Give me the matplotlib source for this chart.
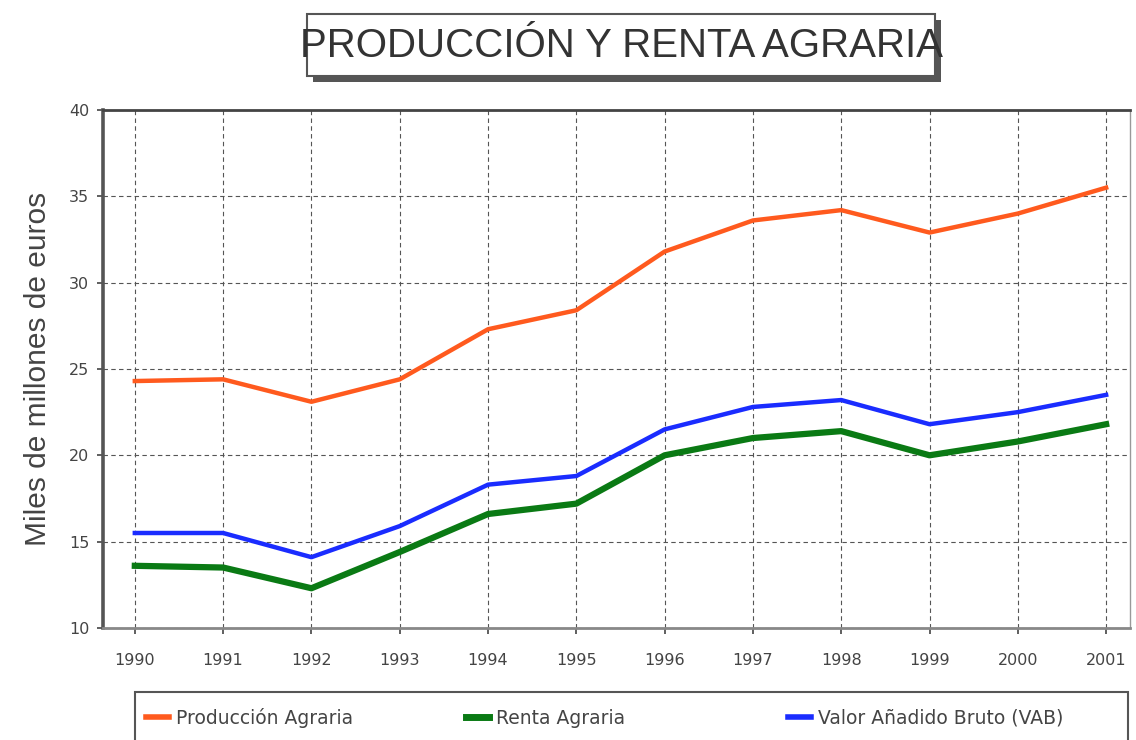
#!/usr/bin/env python3
# -*- coding: utf-8 -*-

import numpy as np
import matplotlib
matplotlib.use("Agg")
import matplotlib.pyplot as plt
import matplotlib.patheffects as pe
from matplotlib.patches import Rectangle
from matplotlib.lines import Line2D

plt.rcParams['font.family'] = ['Liberation Sans', 'DejaVu Sans']

years = [1990, 1991, 1992, 1993, 1994, 1995, 1996, 1997, 1998, 1999, 2000, 2001]
produccion = [24.3, 24.4, 23.1, 24.4, 27.3, 28.4, 31.8, 33.6, 34.2, 32.9, 34.0, 35.5]
renta = [13.6, 13.5, 12.3, 14.4, 16.6, 17.2, 20.0, 21.0, 21.4, 20.0, 20.8, 21.8]
vab = [15.5, 15.5, 14.1, 15.9, 18.3, 18.8, 21.5, 22.8, 23.2, 21.8, 22.5, 23.5]
yticks = [10, 15, 20, 25, 30, 35, 40]
series_names = ["Producción Agraria", "Renta Agraria", "Valor Añadido Bruto (VAB)"]
colors = ["#ff5a1e", "#0a7a14", "#1a2cff"]

fig = plt.figure(figsize=(11.36, 7.4), dpi=100)
ax = fig.add_axes([0.0907, 0.1514, 0.904, 0.70])

ax.plot(years, produccion, color=colors[0], lw=3.2, label=series_names[0])
ax.plot(years, renta, color=colors[1], lw=4.5, label=series_names[1])
ax.plot(years, vab, color=colors[2], lw=3.2, label=series_names[2])

ax.set_xlim(1989.64, 2001.27)
ax.set_ylim(10, 40)
ax.set_xticks(years)
ax.set_yticks(yticks)
ax.grid(True, color="#555555", lw=0.8, linestyle=(0, (4, 3)))
ax.tick_params(axis="both", labelsize=11.5, labelcolor="#444444", color="#444444",
               length=4, width=1.2)
for lab in ax.get_xticklabels() + ax.get_yticklabels():
    lab.set_family("DejaVu Sans")
ax.tick_params(axis="x", pad=14)
ax.tick_params(axis="y", pad=6)

ax.spines["left"].set_linewidth(2.6)
ax.spines["left"].set_color("#555555")
ax.spines["top"].set_linewidth(2.0)
ax.spines["top"].set_color("#444444")
ax.spines["bottom"].set_linewidth(2.0)
ax.spines["bottom"].set_color("#888888")
ax.spines["right"].set_linewidth(1.0)
ax.spines["right"].set_color("#999999")

ax.set_ylabel("Miles de millones de euros", fontsize=21.5, color="#444444", labelpad=12)

# title box with shadow
box = Rectangle((307 / 1136, 1 - 76 / 740), 628 / 1136, 62 / 740,
                transform=fig.transFigure, facecolor="white", edgecolor="#555555",
                lw=1.5, zorder=2,
                path_effects=[pe.SimplePatchShadow(offset=(4, -4), shadow_rgbFace="#555555",
                                                   alpha=1.0), pe.Normal()])
fig.patches.append(box)
fig.text(0.547, 1 - 46 / 740, "PRODUCCIÓN Y RENTA AGRARIA", ha="center", va="center",
         fontsize=29, color="#333333", zorder=3)

# legend frame and entries
legbox = Rectangle((135 / 1136, -0.02), 993 / 1136, (48 / 740) + 0.02,
                   transform=fig.transFigure, facecolor="white", edgecolor="#555555",
                   lw=1.5, zorder=2)
fig.patches.append(legbox)
leg_x = [146, 466, 788]
for name, col, lw, x in zip(series_names, colors, [4, 5, 4], leg_x):
    h = Line2D([], [], color=col, lw=lw)
    leg = fig.legend(handles=[h], labels=[name], loc="center left",
                     bbox_to_anchor=(x / 1136, 1 - 718 / 740), frameon=False,
                     prop={"family": "DejaVu Sans", "size": 13.5},
                     handlelength=1.2, handletextpad=0.4,
                     borderaxespad=0.0, borderpad=0.0)
    for t in leg.get_texts():
        t.set_color("#444444")
    leg.set_zorder(3)

fig.savefig("out.png", dpi=100)
